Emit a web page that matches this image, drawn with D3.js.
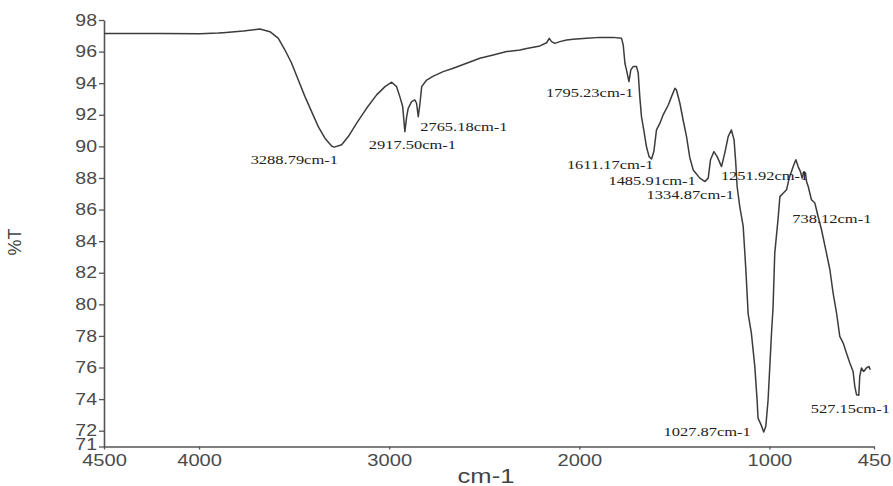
<!DOCTYPE html>
<html>
<head>
<meta charset="utf-8">
<script src="https://cdn.jsdelivr.net/npm/d3@7/dist/d3.min.js"></script>
<style>
  html, body { margin: 0; padding: 0; background: #fff; }
  svg { display: block; }
</style>
</head>
<body>
<svg id="chart" width="893" height="486"></svg>
<script>
// FTIR spectrum: wavenumber (cm-1) vs transmittance (%T)
const wavenumber = [
  4500, 4200, 3995, 3900, 3873, 3767, 3680, 3627, 3583, 3548, 3513, 3478, 3443, 3408,
  3373, 3338, 3303, 3289, 3250, 3215, 3171, 3119, 3066, 3022, 2987, 2961, 2944, 2929,
  2917.5, 2908, 2900, 2882, 2865, 2856, 2847, 2838, 2829, 2803, 2768, 2716, 2663, 2593,
  2523, 2453, 2382, 2312, 2277, 2207, 2172, 2158, 2146, 2129, 2102, 2067, 2032, 1962,
  1892, 1822, 1778, 1769, 1760, 1752, 1739, 1729, 1717, 1699, 1690, 1682, 1673, 1661,
  1647, 1633, 1620, 1608, 1594, 1576, 1559, 1532, 1515, 1497, 1489, 1471, 1454, 1436,
  1419, 1401, 1366, 1339, 1322, 1310, 1292, 1275, 1252, 1235, 1217, 1200, 1186, 1177,
  1170, 1156, 1138, 1124, 1112, 1095, 1077, 1065, 1060, 1045, 1030, 1019, 1007, 998,
  989, 981, 972, 955, 945, 928, 910, 896, 875, 861, 849, 837, 828, 819,
  810, 805, 796, 779, 761, 744, 726, 700, 682, 665, 647, 630, 612, 595,
  577, 560, 551, 542, 530, 525, 516, 504, 490, 476, 470
];
const transmittance = [
  97.15, 97.15, 97.13, 97.17, 97.2, 97.3, 97.43, 97.26, 96.84, 96.1, 95.26, 94.2, 93.15, 92.2,
  91.25, 90.52, 90.02, 89.95, 90.1, 90.62, 91.47, 92.41, 93.26, 93.78, 94.06, 93.78, 93.15, 92.52,
  90.93, 91.88, 92.41, 92.83, 92.94, 92.73, 91.88, 92.73, 93.78, 94.2, 94.45, 94.73, 94.95, 95.26,
  95.58, 95.79, 96.0, 96.1, 96.2, 96.36, 96.56, 96.84, 96.63, 96.52, 96.63, 96.74, 96.78, 96.84,
  96.9, 96.9, 96.84, 96.42, 95.26, 94.84, 94.1, 94.84, 95.05, 95.05, 94.63, 93.15, 91.88, 91.04,
  89.99, 89.35, 89.2, 89.67, 91.04, 91.47, 92.0, 92.62, 93.15, 93.68, 93.57, 92.73, 91.67, 90.62,
  89.3, 88.51, 87.99, 87.77, 87.99, 89.15, 89.67, 89.35, 88.72, 89.57, 90.62, 91.04, 90.41, 88.94,
  87.46, 86.19, 84.93, 82.19, 79.4, 78.18, 76.07, 73.96, 72.8, 72.4, 71.92, 72.28, 73.96, 76.07,
  78.18, 79.8, 83.24, 85.35, 86.82, 87.03, 87.25, 87.99, 88.72, 89.15, 88.72, 88.4, 87.99, 88.4,
  88.3, 87.77, 87.46, 86.62, 86.41, 85.56, 84.72, 83.24, 82.19, 80.71, 79.45, 77.97, 77.55, 76.92,
  76.29, 75.75, 74.81, 74.28, 74.25, 75.44, 75.97, 75.75, 75.97, 76.07, 75.86
];

const xTickValues = [4500, 4000, 3000, 2000, 1000, 450];
const yTickValues = [98, 96, 94, 92, 90, 88, 86, 84, 82, 80, 78, 76, 74, 72, 71];

// Annotated bands: label text, wavenumber and %T of the marked point
const peakText = ["3288.79cm-1", "2917.50cm-1", "2765.18cm-1", "1795.23cm-1", "1611.17cm-1",
                  "1485.91cm-1", "1334.87cm-1", "1251.92cm-1", "738.12cm-1", "1027.87cm-1", "527.15cm-1"];
const peakWavenumber = [3288.79, 2917.50, 2765.18, 1795.23, 1611.17, 1485.91, 1334.87, 1251.92, 738.12, 1027.87, 527.15];
const peakT = [89.95, 90.93, 91.88, 94.1, 89.2, 89.3, 87.77, 88.72, 85.56, 71.92, 74.25];

// Label offsets (px) from each marked point
const labelOffset = [[-40, 17], [7.5, 17], [30, 14], [-28.5, 15], [-43, 10], [-25, 28],
                     [-15.5, 17.5], [43, 13], [12.6, 6], [-57, 4], [-9, 18]];

const svg = d3.select("#chart");
const plotLeft = 104, plotRight = 874, plotTop = 20, plotBottom = 446.5;

const x = d3.scaleLinear().domain([4500, 450]).range([plotLeft, plotRight]);
const y = d3.scaleLinear().domain([71, 98]).range([plotBottom, plotTop]);

const axisColor = "#555";
const tickFont = "'Liberation Sans', Arial, sans-serif";
const stretch = 1.22;

// Y axis
const gy = svg.append("g")
  .attr("transform", `translate(${plotLeft},0)`)
  .call(d3.axisLeft(y).tickValues(yTickValues).tickFormat(d3.format("d"))
    .tickSize(5).tickSizeOuter(0).tickPadding(2));
gy.select(".domain").attr("stroke", axisColor).attr("stroke-width", 1.6);
gy.selectAll(".tick line").attr("stroke", axisColor).attr("stroke-width", 1.3);
gy.selectAll(".tick text")
  .attr("x", null)
  .attr("transform", d => `translate(-7,${d === 71 ? -2 : 0}) scale(${stretch},1)`)
  .attr("fill", "#4a4a4a")
  .style("font-family", tickFont)
  .style("font-size", "16px");

// X axis
const gx = svg.append("g")
  .attr("transform", `translate(0,${plotBottom})`)
  .call(d3.axisBottom(x).tickValues(xTickValues).tickFormat(d3.format("d"))
    .tickSize(3).tickSizeOuter(0).tickPadding(5));
gx.select(".domain").attr("stroke", axisColor).attr("stroke-width", 1.6);
gx.selectAll(".tick line").attr("stroke", axisColor).attr("stroke-width", 1.3);
gx.selectAll(".tick text")
  .attr("transform", `scale(${stretch},1)`)
  .attr("fill", "#4a4a4a")
  .style("font-family", tickFont)
  .style("font-size", "16.5px");

// Axis titles
svg.append("text")
  .attr("transform", `translate(486,483) scale(${stretch},1)`)
  .attr("text-anchor", "middle")
  .attr("fill", "#444")
  .style("font-family", tickFont)
  .style("font-size", "21px")
  .text("cm-1");

svg.append("text")
  .attr("transform", "translate(21,242) rotate(-90)")
  .attr("text-anchor", "middle")
  .attr("fill", "#444")
  .style("font-family", tickFont)
  .style("font-size", "18px")
  .text("%T");

// Spectrum trace
const points = wavenumber.map((w, i) => [w, transmittance[i]]);
svg.append("path")
  .datum(points)
  .attr("fill", "none")
  .attr("stroke", "#3c3c3c")
  .attr("stroke-width", 1.5)
  .attr("stroke-linejoin", "round")
  .attr("d", d3.line().x(d => x(d[0])).y(d => y(d[1])));

// Band annotations
svg.append("g").selectAll("text")
  .data(peakText)
  .join("text")
  .attr("transform", (d, i) =>
    `translate(${x(peakWavenumber[i]) + labelOffset[i][0]},${y(peakT[i]) + labelOffset[i][1]}) scale(1.22,1)`)
  .attr("text-anchor", "middle")
  .attr("fill", "#222")
  .style("font-family", "'Liberation Serif', 'Times New Roman', serif")
  .style("font-size", "13.5px")
  .text(d => d);
</script>
</body>
</html>
